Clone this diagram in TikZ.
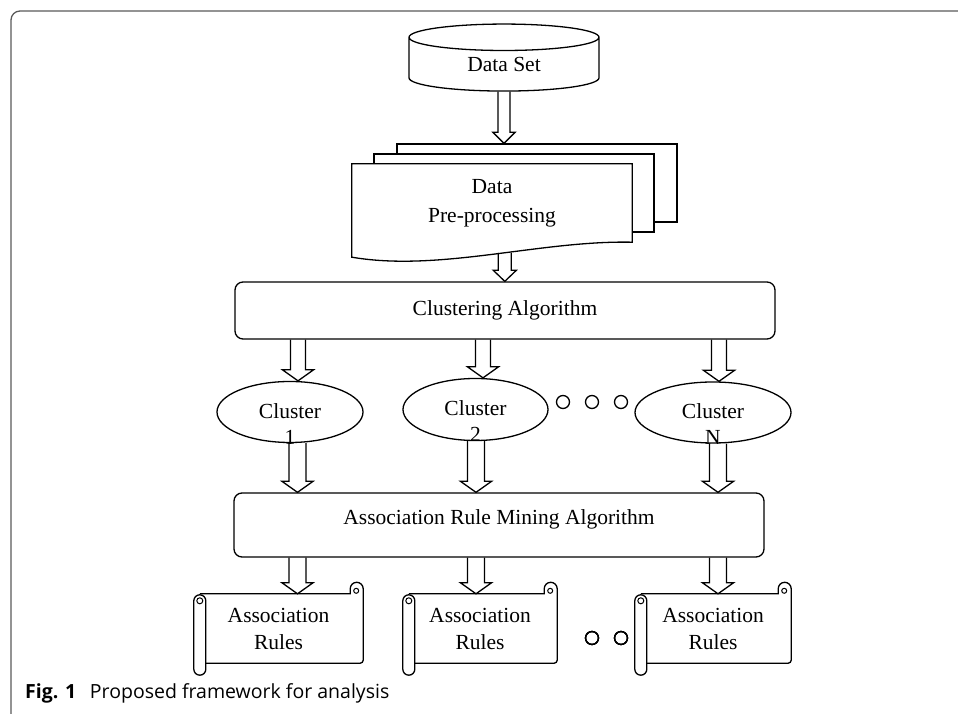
\documentclass[tikz,border=0pt]{standalone}
\usepackage{fontspec}
\setmainfont{Liberation Serif}
\newfontfamily\captionfont{Open Sans}
\usetikzlibrary{shapes.geometric,calc,backgrounds}

% hollow block arrow: x of the tip point, y of the start point
\newcommand{\blockarrow}[4]{%
  \draw[blockarr] let \p1=#3, \p2=#4 in
    (\x2-#1,\y1) -- (\x2-#1,\y2+11pt) -- (\x2-#2,\y2+11pt) -- (\x2,\y2)
    -- (\x2+#2,\y2+11pt) -- (\x2+#1,\y2+11pt) -- (\x2+#1,\y1);}

% scroll drawn round a named node
\newcommand{\scrolloutline}[1]{%
  \draw[outline] ($(#1.north west)+(6,0)$) -- ($(#1.north east)+(-13,0)$) -- ++(0,5)
    arc[start angle=180, end angle=0, radius=6.5]
    [rounded corners=3pt] -- (#1.south east) -- ($(#1.south west)+(12,0)$);
  \draw[outline, line width=1pt] ($(#1.north east)+(-7,3)$) circle[radius=2.5];
  \draw[outline, fill=white, rounded corners=6pt] ($(#1.north west)+(0,-1)$) rectangle ($(#1.south west)+(12,-12)$);
  \draw[outline, line width=1pt] ($(#1.north west)+(6,-7)$) circle[radius=3];}

\begin{document}
\begin{tikzpicture}[x=1pt, y=1pt,
    every node/.style={font=\fontsize{21.5}{26}\selectfont},
    outline/.style={draw, line width=1.3pt},
    algbox/.style={outline, rectangle, rounded corners=8pt, inner sep=0pt},
    page/.style={outline, fill=white, minimum width=280pt, minimum height=78pt},
    cluster/.style={outline, ellipse, inner sep=0pt},
    dot/.style={outline, circle, minimum size=13pt, inner sep=0pt},
    scroll/.style={minimum height=69pt, inner sep=0pt, align=center, font=\fontsize{21.5}{27}\selectfont},
    blockarr/.style={line width=1.3pt},
    frame/.style={draw=black!65, line width=1.3pt, rounded corners=9pt}]

    \useasboundingbox (0,0) rectangle (958,714);
    \draw[frame] (11,0) -- (11,703) -- (958,703);

    % Data set.
    \node[outline, cylinder, shape border rotate=90, aspect=0.36, minimum width=190pt, minimum height=67pt, inner sep=0pt] (dataset) at (504,649.5) {Data Set};

    % Pre-processing pages.
    \node[align=center, minimum width=280pt, minimum height=78pt, inner sep=0pt, font=\fontsize{21.5}{29}\selectfont] (prep) at (492,511) {Data\\Pre-processing};
    \begin{scope}[on background layer]
        \node[page] (page3) at (537,531) {};
        \node[page] (page2) at (514,521) {};
        \draw[outline, fill=white] (prep.north west) -- (prep.north east) -- (prep.south east)
            .. controls +(-92,2) and +(88,-15) .. ([yshift=-15pt]prep.south west) coordinate[pos=0.45] (wave) -- cycle;
    \end{scope}
    \blockarrow{6pt}{11pt}{(dataset.south)}{(page3.north -| dataset.south)}

    % Clustering.
    \node[algbox, minimum width=540pt, minimum height=57pt] (clust) at (505,403.5) {Clustering Algorithm};
    \blockarrow{6.5pt}{11.5pt}{(wave)}{(clust.north -| wave)}

    % Clusters.
    \node[cluster, minimum width=146pt, minimum height=61pt] (cl1) at (290,302) {};
    \node[cluster, minimum width=145pt, minimum height=62pt] (cl2) at (475.5,304.5) {};
    \node[cluster, minimum width=156pt, minimum height=61pt] (clN) at (713,301.5) {};
    \node[align=center] (cl1label) at ($(cl1)+(0,-12)$) {Cluster\\1};
    \node[align=center] (cl2label) at ($(cl2)+(0,-12)$) {Cluster\\2};
    \node[align=center] (clNlabel) at ($(clN)+(0,-12)$) {Cluster\\N};
    \foreach \x in {1,2,3}
        \node[dot] (dot\x) at (534+29*\x,312) {};

    \blockarrow{7.5pt}{15.5pt}{(clust.south)}{($(cl1.north)+(8,0)$)}
    \blockarrow{7.5pt}{15.5pt}{(clust.south)}{($(cl2.north)+(7.5,0)$)}
    \blockarrow{7.5pt}{15.5pt}{(clust.south)}{($(clN.north)+(6,0)$)}

    % Association rule mining.
    \node[algbox, minimum width=530pt, minimum height=64pt, text height=15pt, text depth=15pt] (arm) at (499,189) {Association Rule Mining Algorithm};
    \coordinate (c1) at (297.5,0);
    \coordinate (c2) at (476,0);
    \coordinate (c3) at (718,0);
    \blockarrow{8.5pt}{15.5pt}{(cl1.south)}{(arm.north -| c1)}
    \blockarrow{8.5pt}{15.5pt}{(cl2.south)}{(arm.north -| c2)}
    \blockarrow{8.5pt}{15.5pt}{(clN.south)}{(arm.north -| c3)}

    % Rules.
    \node[scroll, minimum width=169pt] (rules1) at (278.5,85.5) {Association\\Rules};
    \node[scroll, minimum width=154pt] (rules2) at (480,85.5) {Association\\Rules};
    \node[scroll, minimum width=156pt] (rules3) at (713,85.5) {Association\\Rules};
    \foreach \r in {rules1,rules2,rules3}
        \scrolloutline{\r}
    \foreach \x in {1,2}
        \node[dot] (rdot\x) at (563+29*\x,76) {};

    \blockarrow{8.5pt}{15.5pt}{(arm.south)}{(rules1.north -| c1)}
    \blockarrow{8.5pt}{15.5pt}{(arm.south)}{(rules2.north -| c2)}
    \blockarrow{8.5pt}{15.5pt}{(arm.south)}{(rules3.north -| c3)}

    % Caption.
    \node[anchor=base west, inner sep=0pt, font=\captionfont\fontsize{19.5}{23}\selectfont] (caption) at (25,15) {\textbf{Fig. 1}\hspace{0.7em}Proposed framework for analysis};
\end{tikzpicture}
\end{document}
